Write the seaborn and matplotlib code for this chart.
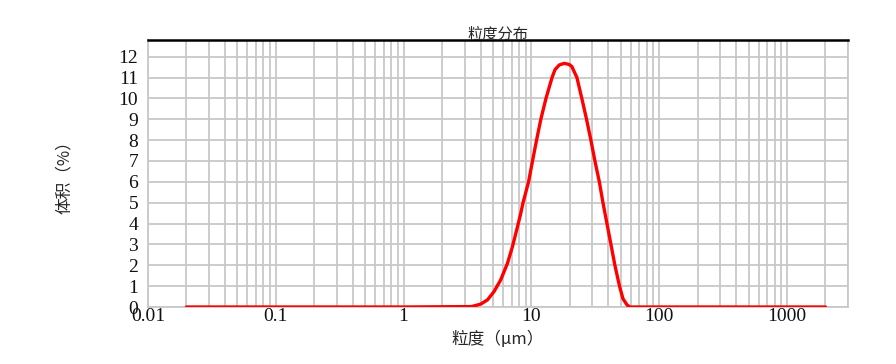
import matplotlib
matplotlib.use("Agg")
import matplotlib.pyplot as plt
import matplotlib.ticker as mticker
import seaborn as sns
import pandas as pd

# data
size_um = [0.02, 1.0, 3.4, 4.01, 4.53, 5.1, 5.75, 6.5, 7.11, 7.79, 8.26, 8.6, 9.5,
           10.2, 10.97, 11.85, 13.0, 14.5, 15.3, 16.5, 18.0, 19.7, 20.7, 22.7,
           24.8, 27.0, 29.2, 31.4, 34.0, 36.3, 39.0, 41.9, 45.0, 48.9, 52.0,
           56.0, 59.0, 100.0, 2000.0]
volume_pct = [0.0, 0.0, 0.02, 0.14, 0.34, 0.74, 1.30, 2.10, 2.90, 3.86, 4.50, 5.0, 6.0,
              7.0, 8.0, 9.0, 10.0, 11.0, 11.38, 11.60, 11.68, 11.63, 11.53, 11.0,
              10.0, 9.0, 8.0, 7.0, 6.0, 5.0, 4.0, 3.0, 2.0, 1.0, 0.4,
              0.1, 0.0, 0.0, 0.0]
x_ticks = [0.01, 0.1, 1, 10, 100, 1000]
x_tick_labels = ["0.01", "0.1", "1", "10", "100", "1000"]
y_ticks = list(range(0, 13))
title = "粒度分布"
x_label = "粒度（μm）"
y_label = "体积（%）"

sns.set_style("white")
plt.rcParams["font.family"] = ["Liberation Serif", "Noto Sans CJK SC", "DejaVu Sans"]

fig = plt.figure(figsize=(8.96, 3.64), dpi=100)
ax = fig.add_axes([148 / 896, 1 - 307 / 364, 700 / 896, 267 / 364])

df = pd.DataFrame({"size": size_um, "vol": volume_pct})
sns.lineplot(data=df, x="size", y="vol", ax=ax, color="#ff0000", linewidth=2.4,
             zorder=3)

ax.set_xscale("log")
ax.set_xlim(0.01, 3000)
ax.set_ylim(0, 12.8)

ax.xaxis.set_major_locator(mticker.FixedLocator(x_ticks))
ax.xaxis.set_major_formatter(mticker.FixedFormatter(x_tick_labels))
ax.xaxis.set_minor_locator(mticker.LogLocator(base=10, subs=range(2, 10), numticks=20))
ax.xaxis.set_minor_formatter(mticker.NullFormatter())
ax.yaxis.set_major_locator(mticker.FixedLocator(y_ticks))

grid_col = "#c8c8c8"
ax.grid(True, which="major", axis="both", color=grid_col, linewidth=1.3, zorder=0)
ax.grid(True, which="minor", axis="x", color=grid_col, linewidth=1.3, zorder=0)
ax.set_axisbelow(True)

for side in ["left", "right", "bottom"]:
    ax.spines[side].set_color(grid_col)
    ax.spines[side].set_linewidth(1.3)
ax.spines["top"].set_color("black")
ax.spines["top"].set_linewidth(1.8)

ax.tick_params(axis="both", which="both", length=0, labelsize=14, colors="#111111")
ax.tick_params(axis="y", pad=7)
ax.tick_params(axis="x", pad=1)

ax.set_title(title, fontsize=11, pad=1, family=["Noto Sans CJK SC"])
ax.set_xlabel(x_label, fontsize=12, labelpad=4, family=["Noto Sans CJK SC", "DejaVu Sans"])
ax.set_ylabel(y_label, fontsize=12, labelpad=33, family=["Noto Sans CJK SC", "DejaVu Sans"])

fig.savefig("out.png", dpi=100)
